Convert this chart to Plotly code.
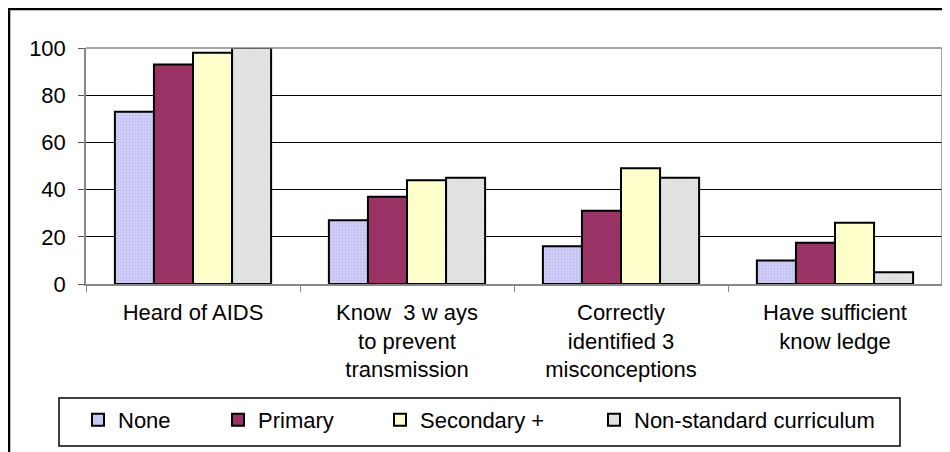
import plotly.graph_objects as go

categories = [
    "Heard of AIDS",
    "Know  3 w ays<br>to prevent<br>transmission",
    "Correctly<br>identified 3<br>misconceptions",
    "Have sufficient<br>know ledge",
]
series_names = ["None", "Primary", "Secondary +", "Non-standard curriculum"]
none_vals = [73, 27, 16, 10]
primary_vals = [93, 37, 31, 17.5]
secondary_vals = [98, 44, 49, 26]
nonstd_vals = [100, 45, 45, 5]
y_ticks = [0, 20, 40, 60, 80, 100]

colors = ["#CFCFF7", "#993366", "#FFFFCC", "#E4E4E4"]
patterns = [".", "", "", "."]
pattern_fg = ["#A8A8E8", None, None, "#CFCFCF"]
legend_ids = ["legend", "legend2", "legend3", "legend4"]

W, H = 942, 444
L, R, T, B = 78, 8, 40, 168
pw = W - L - R
ph = H - T - B


def px(x):
    return (x - L) / pw


def py(y):
    return (H - B - y) / ph


fig = go.Figure()
for name, vals, c, p, fg, lg in zip(series_names,
                                    [none_vals, primary_vals, secondary_vals, nonstd_vals],
                                    colors, patterns, pattern_fg, legend_ids):
    marker = dict(color=c, line=dict(color="black", width=2))
    if p:
        marker["pattern"] = dict(shape=p, fgcolor=fg, bgcolor=c, size=3, solidity=0.3)
    fig.add_trace(go.Bar(x=categories, y=vals, name=name, marker=marker, legend=lg))

legend_x = [70, 210, 372, 586]
legend_common = dict(orientation="h", xanchor="left", yanchor="middle",
                     borderwidth=0, bgcolor="rgba(0,0,0,0)",
                     font=dict(size=22, color="black"))

fig.update_layout(
    width=W, height=H,
    margin=dict(l=L, r=R, t=T, b=B),
    paper_bgcolor="white", plot_bgcolor="white",
    barmode="group", bargap=0.27, bargroupgap=0,
    font=dict(family="Liberation Sans, Arial, sans-serif", size=22, color="black"),
    showlegend=True,
    legend=dict(x=px(legend_x[0]), y=py(412), **legend_common),
    legend2=dict(x=px(legend_x[1]), y=py(412), **legend_common),
    legend3=dict(x=px(legend_x[2]), y=py(412), **legend_common),
    legend4=dict(x=px(legend_x[3]), y=py(412), **legend_common),
    shapes=[
        # outer chart border (left and top visible)
        dict(type="line", xref="paper", yref="paper",
             x0=px(1), x1=px(1), y0=py(H + 10), y1=py(0),
             line=dict(color="black", width=2.5)),
        dict(type="line", xref="paper", yref="paper",
             x0=px(0), x1=px(W + 10), y0=py(1), y1=py(1),
             line=dict(color="black", width=2.5)),
        # plot area border right/top
        dict(type="line", xref="paper", yref="paper",
             x0=1, x1=1, y0=0, y1=1, line=dict(color="#888888", width=1.5)),
        dict(type="line", xref="paper", yref="paper",
             x0=0, x1=1, y0=1, y1=1, line=dict(color="#888888", width=1.5)),
        # legend box
        dict(type="rect", xref="paper", yref="paper",
             x0=px(51), x1=px(892), y0=py(438), y1=py(390),
             line=dict(color="black", width=1.5), fillcolor="rgba(0,0,0,0)"),
    ],
)
fig.update_yaxes(
    range=[0, 100], tickvals=y_ticks,
    showgrid=True, gridcolor="black", gridwidth=1,
    showline=True, linecolor="#888888", linewidth=1.5,
    ticks="outside", ticklen=6, tickcolor="#555555",
    ticklabelstandoff=8,
    zeroline=False, tickfont=dict(size=22, color="black"),
)
fig.update_xaxes(
    showline=True, linecolor="#888888", linewidth=1.5,
    ticks="outside", ticklen=6, tickcolor="#888888", tickson="boundaries",
    ticklabelstandoff=8,
    tickfont=dict(size=22, color="black"), showgrid=False,
)

fig.write_html("out.html")
